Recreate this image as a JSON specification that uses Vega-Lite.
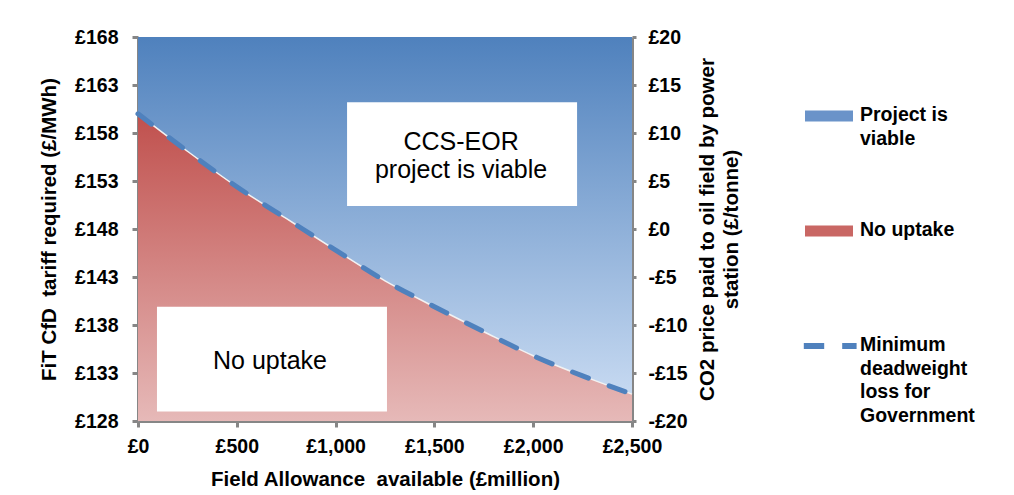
{
  "$schema": "https://vega.github.io/schema/vega-lite/v6.json",
  "width": 494,
  "height": 384,
  "autosize": {"type": "none"},
  "padding": {"left": 138, "top": 37, "right": 382, "bottom": 74},
  "background": "white",
  "config": {
    "font": "Liberation Sans",
    "view": {"stroke": null},
    "axis": {
      "grid": false,
      "domainColor": "#868686",
      "domainWidth": 3,
      "tickColor": "#868686",
      "tickWidth": 3,
      "tickSize": 6,
      "labelFont": "Liberation Sans",
      "labelFontSize": 19.5,
      "labelFontWeight": "bold",
      "labelColor": "black",
      "labelFlush": false,
      "labelOverlap": false,
      "labelBound": false,
      "titleFont": "Liberation Sans",
      "titleFontSize": 20.5,
      "titleFontWeight": "bold",
      "titleColor": "black"
    }
  },
  "datasets": {
    "curve": [
      {"allowance": 0, "tariff": 160.0},
      {"allowance": 250, "tariff": 156.1},
      {"allowance": 500, "tariff": 152.4},
      {"allowance": 750, "tariff": 149.1},
      {"allowance": 1000, "tariff": 145.8},
      {"allowance": 1250, "tariff": 142.6},
      {"allowance": 1500, "tariff": 139.9},
      {"allowance": 1750, "tariff": 137.3},
      {"allowance": 2000, "tariff": 134.8},
      {"allowance": 2250, "tariff": 132.7},
      {"allowance": 2500, "tariff": 130.8}
    ],
    "boxes": [
      {"label": "CCS-EOR\nproject is viable", "x0": 1058, "x1": 2222, "y0": 150.4, "y1": 161.2, "tx": 1635, "ty": 157.1},
      {"label": "No uptake", "x0": 96, "x1": 1260, "y0": 129.0, "y1": 139.9, "tx": 668, "ty": 134.2}
    ],
    "legend": [
      {"series": "Project is|viable"},
      {"series": "No uptake"},
      {"series": "Minimum|deadweight|loss for|Government"}
    ]
  },
  "layer": [
    {
      "layer": [
        {
          "data": {"name": "curve"},
          "mark": {
            "type": "area",
            "interpolate": "monotone",
            "color": {
              "gradient": "linear", "x1": 0, "y1": 0, "x2": 0, "y2": 1,
              "stops": [{"offset": 0, "color": "#4F81BD"}, {"offset": 1, "color": "#C6D9F1"}]
            }
          },
          "encoding": {
            "x": {"field": "allowance", "type": "quantitative"},
            "y": {"field": "tariff", "type": "quantitative"},
            "y2": {"datum": 168}
          }
        },
        {
          "data": {"name": "curve"},
          "mark": {
            "type": "area",
            "interpolate": "monotone",
            "color": {
              "gradient": "linear", "x1": 0, "y1": 0, "x2": 0, "y2": 1,
              "stops": [{"offset": 0, "color": "#C0504D"}, {"offset": 1, "color": "#E6B9B8"}]
            }
          },
          "encoding": {
            "x": {"field": "allowance", "type": "quantitative"},
            "y": {"field": "tariff", "type": "quantitative"},
            "y2": {"datum": 128}
          }
        },
        {
          "data": {"name": "curve"},
          "mark": {"type": "line", "interpolate": "monotone", "color": "#F2F2F2", "strokeWidth": 1.5},
          "encoding": {
            "x": {"field": "allowance", "type": "quantitative"},
            "y": {"field": "tariff", "type": "quantitative"}
          }
        },
        {
          "data": {"name": "curve"},
          "mark": {"type": "line", "interpolate": "monotone", "color": "#4F81BD", "strokeWidth": 5, "strokeDash": [17, 22], "strokeCap": "round"},
          "encoding": {
            "x": {"field": "allowance", "type": "quantitative"},
            "y": {"field": "tariff", "type": "quantitative"}
          }
        },
        {
          "data": {"name": "boxes"},
          "mark": {"type": "rect", "color": "white"},
          "encoding": {
            "x": {"field": "x0", "type": "quantitative"},
            "x2": {"field": "x1"},
            "y": {"field": "y0", "type": "quantitative"},
            "y2": {"field": "y1"}
          }
        },
        {
          "data": {"name": "boxes"},
          "mark": {"type": "text", "font": "Liberation Sans", "fontSize": 25, "color": "black", "align": "center", "baseline": "middle", "lineBreak": "\n", "lineHeight": 28},
          "encoding": {
            "x": {"field": "tx", "type": "quantitative"},
            "y": {"field": "ty", "type": "quantitative"},
            "text": {"field": "label"}
          }
        }
      ],
      "encoding": {
        "x": {
          "field": "allowance",
          "type": "quantitative",
          "scale": {"domain": [0, 2500], "nice": false, "zero": false},
          "axis": {
            "values": [0, 500, 1000, 1500, 2000, 2500],
            "labelExpr": "'£' + format(datum.value, ',')",
            "labelPadding": 10,
            "title": "Field Allowance\u00a0 available (£million)",
            "titlePadding": 14
          }
        },
        "y": {
          "field": "tariff",
          "type": "quantitative",
          "scale": {"domain": [128, 168], "nice": false, "zero": false},
          "axis": {
            "values": [128, 133, 138, 143, 148, 153, 158, 163, 168],
            "labelExpr": "'£' + datum.value",
            "labelPadding": 14,
            "title": "FiT CfD\u00a0 tariff required (£/MWh)",
            "titlePadding": 15
          }
        }
      }
    },
    {
      "data": {"name": "legend"},
      "mark": {"type": "point", "filled": true, "opacity": 0},
      "encoding": {
        "y": {
          "datum": 0,
          "type": "quantitative",
          "scale": {"domain": [-20, 20], "nice": false, "zero": false},
          "axis": {
            "orient": "right",
            "values": [-20, -15, -10, -5, 0, 5, 10, 15, 20],
            "labelExpr": "datum.value < 0 ? '-£' + abs(datum.value) : '£' + datum.value",
            "tickSize": 4,
            "labelPadding": 12,
            "title": ["CO2 price paid to oil field by power", "station (£/tonne)"],
            "titleAngle": 270,
            "titleLineHeight": 24,
            "titlePadding": 6
          }
        },
        "color": {
          "field": "series",
          "type": "nominal",
          "scale": {
            "domain": ["Project is|viable", "No uptake", "Minimum|deadweight|loss for|Government"],
            "range": ["#6A93C9", "#C96764", "#4F81BD"]
          },
          "legend": {
            "orient": "none",
            "legendX": 667,
            "legendY": 55,
            "title": null,
            "padding": 0,
            "symbolSize": 2304,
            "symbolOpacity": 1,
            "symbolStrokeWidth": 0,
            "labelFont": "Liberation Sans",
            "labelFontSize": 19.5,
            "labelFontWeight": "bold",
            "labelColor": "black",
            "labelOffset": 7,
            "labelLimit": 0,
            "labelBaseline": "top",
            "labelExpr": "split(datum.label, '|')",
            "gridAlign": "all",
            "rowPadding": 12,
            "encode": {"labels": {"update": {"lineHeight": {"value": 23.5}, "dy": {"value": -10}}}}
          }
        },
        "shape": {
          "field": "series",
          "type": "nominal",
          "scale": {
            "domain": ["Project is|viable", "No uptake", "Minimum|deadweight|loss for|Government"],
            "range": ["M-1,-0.23H1V0.23H-1Z", "M-1,-0.23H1V0.23H-1Z", "M-1.05,-0.13H-0.2V0.13H-1.05Z M0.55,-0.13H1.15V0.13H0.55Z"]
          }
        }
      }
    }
  ],
  "resolve": {"scale": {"y": "independent"}}
}
